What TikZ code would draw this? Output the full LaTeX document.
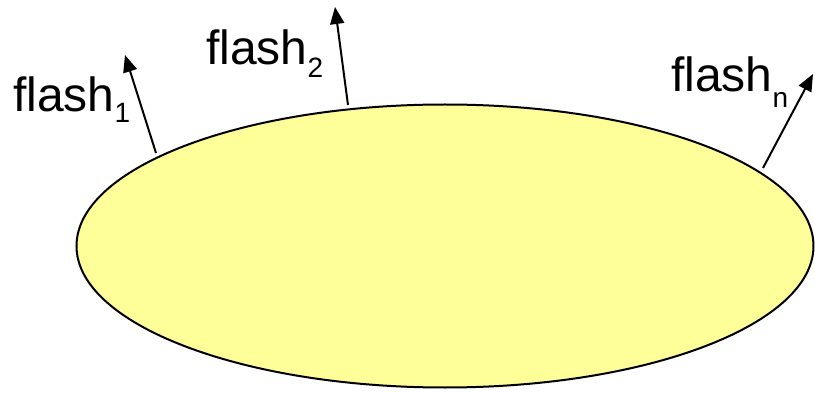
\documentclass[tikz,border=0pt]{standalone}
\usepackage{fontspec}
\setmainfont{Liberation Sans}
\usetikzlibrary{shapes.geometric,arrows.meta}
\definecolor{diskfill}{HTML}{FFFF99}
\tikzset{
  disk/.style={ellipse, draw=black, line width=2pt, fill=diskfill, inner sep=0pt,
    minimum width=737pt, minimum height=283pt},
  flasharrow/.style={line width=2pt, -{Triangle[length=17pt,width=14pt]}},
  lbl/.style={anchor=base west, inner sep=0pt, font=\fontsize{48}{48}\selectfont}
}
\newcommand{\subsc}[2]{\raisebox{-#1pt}{\fontsize{28}{28}\selectfont #2}}
\begin{document}
\begin{tikzpicture}[x=1pt,y=-1pt]
\useasboundingbox (0,0) rectangle (815,393);
\node[disk] (disk) at (445,246) {};
\coordinate (s1) at (156,153);
\coordinate (t1) at (125,55);
\coordinate (s2) at (348,105);
\coordinate (t2) at (335,7);
\coordinate (sn) at (763,168);
\coordinate (tn) at (813,74);
\draw[flasharrow] (s1) -- (t1);
\draw[flasharrow] (s2) -- (t2);
\draw[flasharrow] (sn) -- (tn);
\node[lbl] (l1) at (13,112) {flash\subsc{11}{1}};
\node[lbl] (l2) at (206,65) {flash\subsc{13}{2}};
\node[lbl] (ln) at (671,92) {flash\subsc{16}{n}};
\end{tikzpicture}
\end{document}
